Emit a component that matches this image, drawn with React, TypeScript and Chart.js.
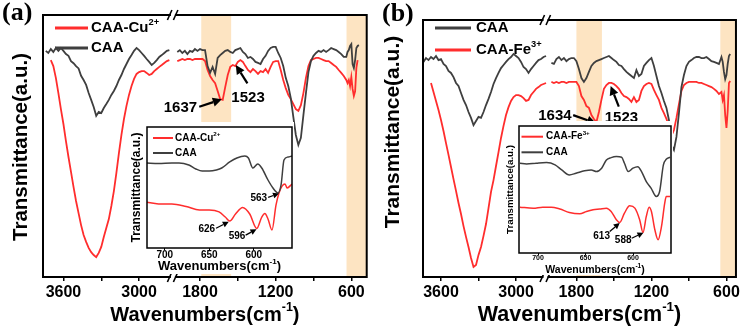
import React, { useEffect, useRef } from 'react';
import { Chart, registerables } from 'chart.js';
Chart.register(...registerables);

const RED = '#ff2d2d';
const GRAY = '#3f3f3f';
const BAND = '#fde4c2';
const SANS = '"Liberation Sans", Arial, sans-serif';
const SERIF = '"Liberation Serif", "Times New Roman", serif';

// ---------- tick values ----------
const LEFT_TICKS = [3600, 3300, 3000];
const RIGHT_TICKS = [1800, 1500, 1200, 900, 600];
const LABEL_STEP = 600;
const INSET_TICKS = [700, 650, 600];

// ---------- main spectra: wavenumber grids ----------
const LEFT_X = [3740,3720,3700,3680,3660,3640,3620,3600,3580,3560,3540,3520,3500,3480,3460,3440,3420,3400,3380,3360,3340,3320,3300,3280,3260,3240,3220,3200,3180,3160,3140,3120,3100,3080,3060,3040,3020,3000,2980,2960,2940,2920,2900,2880,2860,2840,2820,2800,2780,2760];
const A_RIGHT_X = [1980,1960,1940,1920,1900,1880,1860,1840,1820,1800,1780,1760,1740,1720,1700,1680,1660,1640,1620,1600,1580,1560,1540,1520,1500,1480,1460,1440,1420,1400,1380,1360,1340,1320,1300,1280,1260,1240,1220,1200,1180,1160,1140,1120,1100,1080,1060,1040,1020,1000,980,960,940,920,900,880,860,840,820,800,780,760,740,720,700,680,660,640,630,620,610,600,590,580,570,560,550,540];
const B_RIGHT_X = [2000,1980,1960,1940,1920,1900,1880,1860,1840,1820,1800,1780,1760,1740,1720,1700,1680,1660,1640,1620,1600,1580,1560,1540,1520,1500,1480,1460,1440,1420,1400,1380,1360,1340,1320,1300,1280,1260,1240,1220,1200,1180,1160,1140,1120,1100,1080,1060,1040,1020,1000,980,960,940,920,900,880,860,840,820,800,780,760,740,720,700,680,660,640,630,620,610,600,590,580,570];

// ---------- panel (a): CAA (gray) and CAA-Cu2+ (red) ----------
const A_GRAY_L = [86.3,85.5,87.0,85.9,87.4,86.3,87.4,86.3,85.1,84.4,82.4,81.6,80.5,79.6,76.8,75.2,73.3,70.2,67.6,64.9,61.5,63.0,62.6,64.5,66.0,67.6,69.5,71.0,72.9,75.2,77.1,79.4,81.3,83.2,84.7,86.3,87.4,86.6,85.5,84.4,83.2,82.1,80.9,81.7,82.8,84.0,84.7,85.5,86.3,86.6];
const A_RED_L = [null,null,82.8,80.5,76.0,70.2,64.1,58.4,51.9,45.8,40.1,34.4,29.0,24.4,19.8,16.0,13.4,11.1,9.5,8.4,7.6,9.2,11.5,15.3,18.7,22.1,27.1,32.8,39.7,47.3,54.2,60.3,65.3,69.5,72.9,75.6,77.5,78.2,78.6,78.6,77.9,77.1,77.5,78.6,79.4,80.2,80.9,81.7,82.4,82.8];
const A_GRAY_R = [85.9,86.6,85.5,86.3,85.1,86.3,85.9,87.0,86.3,87.0,
  86.6,86.6,80.5,77.9,80.2,77.5,83.6,84.7,85.5,86.3,
  86.6,85.9,85.5,86.6,87.0,87.4,85.9,85.1,83.6,84.0,
  83.2,82.1,81.7,81.3,83.2,84.4,86.3,87.4,87.8,87.8,
  85.5,83.6,80.5,76.0,72.9,68.3,61.1,54.2,50.4,53.1,
  61.8,70.2,78.2,82.4,84.4,85.5,86.3,85.9,86.6,85.9,
  86.6,87.4,87.0,86.6,85.9,85.1,84.0,84.0,
  85.9,86.6,88.2,88.9,81.3,79.8,82.8,87.4,88.2,88.5];
const A_RED_R = [82.4,82.8,83.2,82.8,83.2,83.2,82.8,83.2,83.2,83.2,
  83.2,82.4,79.0,76.7,75.2,74.0,71.0,67.9,67.6,72.5,
  77.1,80.2,80.9,80.5,82.1,82.8,82.1,80.5,79.0,78.2,
  79.4,78.6,77.5,78.6,78.2,79.4,77.9,80.2,82.1,82.4,
  82.4,79.0,75.2,72.1,69.5,67.9,66.0,64.1,63.4,65.6,
  70.2,76.0,80.5,82.8,83.2,83.6,83.6,83.2,82.8,82.4,
  82.4,81.7,80.9,80.2,79.0,77.9,76.7,75.2,
  74.0,75.2,72.9,76.3,71.8,69.1,70.9,79.8,82.8,null];
const A_BANDS = [[1790, 1553], [638, 400]];
const A_ANN = [
  { text: '1637', tip: [1627, 67.8], tail: [1806, 65.0], at: [1955, 64.4] },
  { text: '1523', tip: [1516, 80.9], tail: [1424, 73.9], at: [1419, 68.2] },
];

// ---------- panel (b): CAA (gray) and CAA-Fe3+ (red) ----------
const B_GRAY_L = [83.7,85.2,84.4,85.6,84.8,86.0,84.4,84.8,82.9,82.1,80.2,79.4,77.8,75.5,74.3,71.6,68.9,66.9,64.2,61.9,59.1,60.7,62.3,61.9,64.2,66.9,69.3,72.0,75.1,77.4,79.4,81.3,82.5,83.7,84.8,85.6,86.8,86.0,85.2,83.7,81.7,80.9,79.4,80.9,82.1,83.3,84.4,84.8,85.6,86.0];
const B_RED_L = [null,null,null,75.5,72.0,68.5,65.0,61.1,56.8,52.1,47.5,42.8,38.1,33.5,28.8,24.5,19.8,15.6,11.7,7.4,3.9,4.7,8.6,11.7,16.0,20.6,26.8,33.1,37.7,43.2,48.6,54.1,58.8,63.0,66.1,68.5,70.0,70.8,70.8,70.4,69.6,68.5,68.9,70.8,72.0,73.2,73.9,74.7,75.1,75.5];
const B_GRAY_R = [83.3,82.9,84.8,85.6,84.4,85.2,84.0,84.8,85.2,85.2,
  84.0,80.9,77.4,75.9,77.4,79.8,82.1,83.3,84.0,84.4,
  84.8,85.2,85.6,86.0,85.2,84.4,83.7,82.5,82.1,80.9,
  79.8,79.0,78.2,77.4,80.5,78.2,79.0,82.1,83.3,84.4,
  85.2,82.1,78.2,74.3,71.6,68.5,65.8,61.1,51.4,49.4,
  54.5,63.8,73.9,78.6,82.1,83.7,84.4,85.2,85.6,85.6,
  85.2,85.2,85.6,84.8,84.0,83.7,83.3,82.9,85.6,
  83.7,79.8,77.0,78.6,82.9,86.0,86.8];
const B_RED_R = [75.9,75.5,75.9,75.5,75.9,75.9,75.5,75.9,75.9,75.9,
  75.9,74.3,70.4,68.9,66.5,65.8,63.0,61.5,60.3,64.2,
  68.9,73.2,74.7,75.5,75.5,75.1,74.3,73.2,71.6,70.4,
  70.0,69.3,68.1,70.0,68.1,68.9,72.4,74.3,75.1,75.5,
  75.1,72.8,70.8,68.9,65.8,63.8,61.5,58.8,54.9,57.2,
  61.9,67.3,72.4,74.7,75.5,75.9,75.9,75.9,75.9,75.5,
  75.5,75.1,74.7,74.3,73.9,73.2,72.4,71.2,72.0,
  68.9,70.8,63.0,58.0,64.6,75.5,76.3];
const B_BANDS = [[1800, 1596], [649, 400]];
const B_ANN = [
  { text: '1634', tip: [1643, 59.8], tail: [1826, 63.0], at: [1972, 62.6] },
  { text: '1523', tip: [1526, 74.3], tail: [1461, 66.3], at: [1440, 61.9] },
];

// ---------- inset (a) ----------
const IA_GRAY_X = [721,707,692,684,673,665,658,650,642,636,627,619,610,606,601,595.5,591,584,578.4,572.7,569.3,566,561.4,557];
const IA_GRAY_Y = [70.2,69.8,70.2,70.2,68.6,65.3,63.6,63.6,64.5,66.1,71.1,74.4,76.0,74.4,66.1,69.4,66.1,56.2,49.6,45.5,52.1,72.7,75.2,76.0];
const IA_RED_X = [721,707,692,676,661,650,639,632,627,620.5,612.5,604.5,596.6,591,587.5,584,579.5,575,571.6,568.2,564.8,562.5,557];
const IA_RED_Y = [38.0,36.4,36.4,34.3,31.4,31.4,29.8,25.6,22.3,28.1,33.5,28.1,16.1,25.6,28.5,24.0,14.9,35.5,45.5,51.2,52.9,49.6,52.9];
const IA_ANN = [
  { text: '626', tip: [628.1, 21.7], tail: [642.4, 16.3], at: [652.8, 15.5] },
  { text: '596', tip: [596.9, 15.5], tail: [609.1, 10.7], at: [618.8, 9.3] },
  { text: '563', tip: [571.6, 45.0], tail: [583.8, 41.9], at: [594.3, 41.3] },
];

// ---------- inset (b) ----------
const IB_GRAY_X = [719,712,702,691,682,675,667,660,651,644,638.5,633,628,623,617.5,612,609,605,600,595,591,586,581,575.5,572,568,565,561];
const IB_GRAY_Y = [70.7,70.1,70.7,71.2,69.4,65.4,61.5,62.8,64.7,65.4,64.1,66.8,73.3,75.1,75.9,75.4,70.7,64.1,66.8,68.0,64.1,56.2,51.1,44.5,48.4,69.4,73.8,75.4];
const IB_RED_X = [719,705,695,686,677,667,656,649,642,635,628,623,617.5,614,609,603.5,598,593,589.5,586,583,580.6,577,573.6,570,566.6,565,561];
const IB_RED_Y = [36.1,35.3,36.1,36.1,34.6,31.9,30.9,32.7,34.0,34.6,35.3,32.7,26.2,24.0,31.4,37.2,35.3,26.2,16.2,28.8,36.1,32.7,18.3,10.4,20.9,39.3,44.5,44.5];
const IB_ANN = [
  { text: '613', tip: [614, 23.6], tail: [624.5, 17.0], at: [633, 12.8] },
  { text: '588', tip: [589, 16.0], tail: [601.4, 11.6], at: [610.3, 10.1] },
];

const CU_LABEL = [{ t: 'CAA-Cu' }, { t: '2+', sup: true }];
const FE_LABEL = [{ t: 'CAA-Fe' }, { t: '3+', sup: true }];
const CAA_LABEL = [{ t: 'CAA' }];
const XTITLE = [{ t: 'Wavenumbers(cm' }, { t: '-1', sup: true }, { t: ')' }];
const YTITLE = 'Transmittance(a.u.)';

type Part = { t: string; sup?: boolean };

function drawRich(ctx: CanvasRenderingContext2D, parts: Part[], x: number, y: number, size: number, align: string) {
  ctx.save();
  ctx.fillStyle = '#000';
  ctx.textBaseline = 'middle';
  ctx.textAlign = 'left';
  const f = (s: number) => `bold ${s}px ${SANS}`;
  const sup = size * 0.62;
  let w = 0;
  for (const p of parts) { ctx.font = f(p.sup ? sup : size); w += ctx.measureText(p.t).width; }
  let cx = align === 'left' ? x : align === 'center' ? x - w / 2 : x - w;
  for (const p of parts) {
    ctx.font = f(p.sup ? sup : size);
    ctx.fillText(p.t, cx, p.sup ? y - size * 0.36 : y);
    cx += ctx.measureText(p.t).width;
  }
  ctx.restore();
}

function drawVText(ctx: CanvasRenderingContext2D, text: string, x: number, y: number, size: number) {
  ctx.save();
  ctx.translate(x, y);
  ctx.rotate(-Math.PI / 2);
  ctx.font = `bold ${size}px ${SANS}`;
  ctx.textAlign = 'center';
  ctx.textBaseline = 'middle';
  ctx.fillStyle = '#000';
  ctx.fillText(text, 0, 0);
  ctx.restore();
}

function drawArrow(ctx: CanvasRenderingContext2D, x0: number, y0: number, x1: number, y1: number, lw: number, head: number, hw: number) {
  const ang = Math.atan2(y1 - y0, x1 - x0);
  const bx = x1 - head * Math.cos(ang), by = y1 - head * Math.sin(ang);
  ctx.save();
  ctx.strokeStyle = '#000';
  ctx.fillStyle = '#000';
  ctx.lineWidth = lw;
  ctx.beginPath(); ctx.moveTo(x0, y0); ctx.lineTo(bx, by); ctx.stroke();
  ctx.beginPath();
  ctx.moveTo(x1, y1);
  ctx.lineTo(bx + hw * Math.sin(ang), by - hw * Math.cos(ang));
  ctx.lineTo(bx - hw * Math.sin(ang), by + hw * Math.cos(ang));
  ctx.closePath(); ctx.fill();
  ctx.restore();
}

function drawLegend(ctx: CanvasRenderingContext2D, a: any, lg: any) {
  lg.items.forEach((it: any, i: number) => {
    const y = a.top + lg.ys[i];
    ctx.save();
    ctx.strokeStyle = it.color; ctx.lineWidth = lg.lw;
    ctx.beginPath(); ctx.moveTo(a.left + lg.x0, y); ctx.lineTo(a.left + lg.x1, y); ctx.stroke();
    ctx.restore();
    drawRich(ctx, it.parts, a.left + lg.tx, y, lg.size, 'left');
  });
}

function drawAnns(chart: any, anns: any[], pxFn: (v: number) => number, st: any) {
  const ctx = chart.ctx as CanvasRenderingContext2D;
  const ys = chart.scales.y;
  for (const an of anns) {
    drawArrow(ctx, pxFn(an.tail[0]), ys.getPixelForValue(an.tail[1]), pxFn(an.tip[0]), ys.getPixelForValue(an.tip[1]), st.lw, st.head, st.hw);
    drawRich(ctx, [{ t: an.text }], pxFn(an.at[0]), ys.getPixelForValue(an.at[1]), st.size, 'center');
  }
}

const tickFont = (size: number, lh?: number) => ({ family: SANS, size, weight: 'bold' as const, lineHeight: lh ?? 1.2 });

function buildMain(c: any) {
  const datasets: any[] = [];
  for (const s of c.series) {
    datasets.push({ data: s.lx.map((x: number, i: number) => ({ x, y: s.ly[i] })), xAxisID: 'xL', yAxisID: 'y', borderColor: s.color, borderWidth: 1.8, pointRadius: 0, tension: 0, fill: false });
    datasets.push({ data: s.rx.map((x: number, i: number) => ({ x, y: s.ry[i] })), xAxisID: 'xR', yAxisID: 'y', borderColor: s.color, borderWidth: 1.8, pointRadius: 0, tension: 0, fill: false });
  }
  const xScale = (rng: number[], ticks: number[]) => ({
    type: 'linear', position: 'bottom', stack: 'x', stackWeight: rng[1] - rng[0],
    min: rng[0], max: rng[1], reverse: true,
    afterFit: (s: any) => { s.height = c.axisH; },
    afterBuildTicks: (s: any) => { s.ticks = ticks.map((v) => ({ value: v })); },
    ticks: { callback: (v: any) => (Number(v) % LABEL_STEP === 0 ? String(v) : ''), font: tickFont(16), color: '#000', padding: 2, maxRotation: 0, autoSkip: false },
    grid: { drawOnChartArea: false, drawTicks: true, tickLength: 4, color: '#000', lineWidth: 1.5 },
    border: { display: false },
  });
  const pxFn = (chart: any) => (v: number) => (v > 2400 ? chart.scales.xL : chart.scales.xR).getPixelForValue(v);
  const plugin = {
    id: 'mainDeco',
    beforeDatasetsDraw(chart: any) {
      const ctx = chart.ctx, a = chart.chartArea, xR = chart.scales.xR;
      ctx.save(); ctx.fillStyle = BAND;
      for (const [w0, w1] of c.bands) {
        const p0 = Math.max(a.left, Math.min(a.right, xR.getPixelForValue(w0)));
        const p1 = Math.max(a.left, Math.min(a.right, xR.getPixelForValue(w1)));
        ctx.fillRect(Math.min(p0, p1), a.top, Math.abs(p1 - p0), a.bottom - a.top);
      }
      ctx.restore();
    },
    afterDraw(chart: any) {
      const ctx = chart.ctx as CanvasRenderingContext2D, a = chart.chartArea;
      ctx.save();
      ctx.strokeStyle = '#000'; ctx.lineWidth = 2;
      ctx.strokeRect(a.left, a.top, a.right - a.left, a.bottom - a.top);
      const X = chart.scales.xL.right;
      for (const y of [a.top, a.bottom]) {
        ctx.fillStyle = '#fff';
        ctx.fillRect(X - 3.5, y - 1.6, 4, 3.2);
        ctx.strokeStyle = '#000'; ctx.lineWidth = 1.6;
        ctx.beginPath(); ctx.moveTo(X - 7, y + 5); ctx.lineTo(X - 2.5, y - 5); ctx.stroke();
        ctx.beginPath(); ctx.moveTo(X - 1, y + 5); ctx.lineTo(X + 3.5, y - 5); ctx.stroke();
      }
      ctx.restore();
      drawLegend(ctx, a, c.legend);
      drawAnns(chart, c.ann, pxFn(chart), { lw: 2.2, head: 9, hw: 4.5, size: 15 });
      drawRich(ctx, XTITLE, (a.left + a.right) / 2, c.xTitle.y, c.xTitle.size, 'center');
      drawVText(ctx, YTITLE, c.yTitle.x, c.yTitle.y, c.yTitle.size);
      ctx.save();
      ctx.font = `bold 26px ${SERIF}`; ctx.textBaseline = 'middle'; ctx.textAlign = 'left'; ctx.fillStyle = '#000';
      ctx.fillText(c.label, c.labelX, c.labelY);
      ctx.restore();
    },
  };
  return {
    type: 'line',
    data: { datasets },
    options: {
      animation: false, responsive: false, maintainAspectRatio: false,
      layout: { padding: { left: c.pad.left, right: c.pad.right, top: c.pad.top, bottom: 0 } },
      plugins: { legend: { display: false }, tooltip: { enabled: false } },
      scales: {
        xL: xScale(c.leftRange, LEFT_TICKS),
        xR: xScale(c.rightRange, RIGHT_TICKS),
        y: { type: 'linear', min: 0, max: 100, display: false },
      },
    },
    plugins: [plugin],
  };
}

function buildInset(c: any) {
  const datasets = c.series.map((s: any) => ({
    data: s.x.map((x: number, i: number) => ({ x, y: s.y[i] })), borderColor: s.color, borderWidth: 1.5,
    pointRadius: 0, cubicInterpolationMode: 'monotone', fill: false,
  }));
  const plugin = {
    id: 'insetDeco',
    beforeDraw(chart: any) {
      const ctx = chart.ctx, a = chart.chartArea;
      ctx.save(); ctx.fillStyle = '#fff';
      ctx.fillRect(a.left - 2, 0, chart.width - a.left + 2, chart.height);
      ctx.restore();
    },
    afterDraw(chart: any) {
      const ctx = chart.ctx as CanvasRenderingContext2D, a = chart.chartArea;
      ctx.save(); ctx.strokeStyle = '#000'; ctx.lineWidth = 1.5;
      ctx.strokeRect(a.left, a.top, a.right - a.left, a.bottom - a.top);
      ctx.restore();
      drawLegend(ctx, a, c.legend);
      drawAnns(chart, c.ann, (v: number) => chart.scales.x.getPixelForValue(v), { lw: 1.3, head: 6, hw: 3, size: 10 });
      drawRich(ctx, XTITLE, (a.left + a.right) / 2, c.xTitle.y, c.xTitle.size, 'center');
      drawVText(ctx, YTITLE, c.yTitle.x, (a.top + a.bottom) / 2, c.yTitle.size);
    },
  };
  return {
    type: 'line',
    data: { datasets },
    options: {
      animation: false, responsive: false, maintainAspectRatio: false,
      layout: { padding: { left: c.pad.left, right: c.pad.right, top: c.pad.top, bottom: 0 } },
      plugins: { legend: { display: false }, tooltip: { enabled: false } },
      scales: {
        x: {
          type: 'linear', position: 'bottom', min: c.range[0], max: c.range[1], reverse: true,
          afterFit: (s: any) => { s.height = c.axisH; },
          afterBuildTicks: (s: any) => { s.ticks = INSET_TICKS.map((v) => ({ value: v })); },
          ticks: { font: tickFont(c.tickSize, 1), color: '#000', padding: 0, maxRotation: 0, autoSkip: false },
          grid: { drawOnChartArea: false, drawTicks: true, tickLength: 2, color: '#000', lineWidth: 1 },
          border: { display: false },
        },
        y: { type: 'linear', min: 0, max: 100, display: false },
      },
    },
    plugins: [plugin],
  };
}

const PANEL_A = {
  pad: { left: 43, right: 7, top: 15 }, axisH: 55,
  leftRange: [2720, 3762], rightRange: [478, 2003],
  series: [
    { color: GRAY, lx: LEFT_X, ly: A_GRAY_L, rx: A_RIGHT_X, ry: A_GRAY_R },
    { color: RED, lx: LEFT_X, ly: A_RED_L, rx: A_RIGHT_X, ry: A_RED_R },
  ],
  legend: { x0: 12, x1: 45, tx: 48, ys: [13, 33], size: 15, lw: 3, items: [{ color: RED, parts: CU_LABEL }, { color: GRAY, parts: CAA_LABEL }] },
  bands: A_BANDS, ann: A_ANN,
  label: '(a)', labelX: 2, labelY: 13,
  yTitle: { x: 21, y: 147, size: 20.5 },
  xTitle: { y: 315, size: 20 },
};

const PANEL_B = {
  pad: { left: 48, right: 4, top: 20 }, axisH: 55,
  leftRange: [2752, 3744], rightRange: [524, 2035],
  series: [
    { color: GRAY, lx: LEFT_X, ly: B_GRAY_L, rx: B_RIGHT_X, ry: B_GRAY_R },
    { color: RED, lx: LEFT_X, ly: B_RED_L, rx: B_RIGHT_X, ry: B_RED_R },
  ],
  legend: { x0: 12, x1: 48, tx: 53, ys: [8, 30], size: 15, lw: 3, items: [{ color: GRAY, parts: CAA_LABEL }, { color: RED, parts: FE_LABEL }] },
  bands: B_BANDS, ann: B_ANN,
  label: '(b)', labelX: 7, labelY: 14,
  yTitle: { x: 18, y: 132, size: 21 },
  xTitle: { y: 315, size: 21.5 },
};

const INSET_A = {
  pad: { left: 21, right: 2, top: 5 }, axisH: 26, range: [557, 720], tickSize: 10,
  series: [
    { color: GRAY, x: IA_GRAY_X, y: IA_GRAY_Y },
    { color: RED, x: IA_RED_X, y: IA_RED_Y },
  ],
  legend: { x0: 6, x1: 26, tx: 28, ys: [11, 26], size: 10, lw: 2, items: [{ color: RED, parts: CU_LABEL }, { color: GRAY, parts: CAA_LABEL }] },
  ann: IA_ANN,
  xTitle: { y: 144, size: 13 },
  yTitle: { x: 11, size: 12 },
};

const INSET_B = {
  pad: { left: 19, right: 2, top: 5 }, axisH: 22, range: [560, 720], tickSize: 7,
  series: [
    { color: GRAY, x: IB_GRAY_X, y: IB_GRAY_Y },
    { color: RED, x: IB_RED_X, y: IB_RED_Y },
  ],
  legend: { x0: 2.5, x1: 24, tx: 27, ys: [10.7, 26.3], size: 10, lw: 2, items: [{ color: RED, parts: FE_LABEL }, { color: GRAY, parts: CAA_LABEL }] },
  ann: IB_ANN,
  xTitle: { y: 149, size: 10.5 },
  yTitle: { x: 10, size: 9.7 },
};

function ChartCanvas({ make, left, top, width, height }: any) {
  const ref = useRef<HTMLCanvasElement>(null);
  useEffect(() => {
    const chart = new Chart(ref.current as HTMLCanvasElement, make() as any);
    return () => chart.destroy();
  }, []);
  return <canvas ref={ref} width={width} height={height} style={{ position: 'absolute', left, top, width, height }} />;
}

export default function App() {
  return (
    <div style={{ position: 'absolute', left: 0, top: 0, width: 747, height: 332, background: '#fff', overflow: 'hidden' }}>
      <ChartCanvas make={() => buildMain(PANEL_A)} left={0} top={0} width={375} height={332} />
      <ChartCanvas make={() => buildMain(PANEL_B)} left={375} top={0} width={372} height={332} />
      <ChartCanvas make={() => buildInset(INSET_A)} left={126} top={122} width={168} height={152} />
      <ChartCanvas make={() => buildInset(INSET_B)} left={500} top={121} width={173} height={154} />
    </div>
  );
}
